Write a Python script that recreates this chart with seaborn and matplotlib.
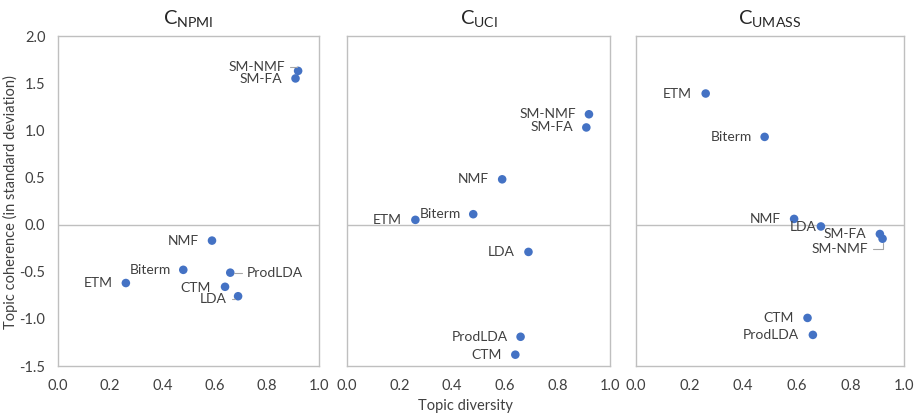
import numpy as np
import pandas as pd
import matplotlib
matplotlib.use("Agg")
import matplotlib.pyplot as plt
import seaborn as sns

models = ["ETM", "Biterm", "NMF", "CTM", "ProdLDA", "LDA", "SM-FA", "SM-NMF"]
diversity = [0.26, 0.48, 0.59, 0.64, 0.66, 0.69, 0.91, 0.92]
npmi = [-0.62, -0.48, -0.17, -0.66, -0.51, -0.76, 1.55, 1.63]
uci = [0.05, 0.11, 0.48, -1.38, -1.19, -0.29, 1.03, 1.17]
umass = [1.39, 0.93, 0.06, -0.99, -1.17, -0.02, -0.10, -0.15]
titles = [r"C$_{\mathregular{NPMI}}$", r"C$_{\mathregular{UCI}}$", r"C$_{\mathregular{UMASS}}$"]
x_ticks = [0.0, 0.2, 0.4, 0.6, 0.8, 1.0]
y_ticks = [-1.5, -1.0, -0.5, 0.0, 0.5, 1.0, 1.5, 2.0]

sns.set_theme(style="white")
plt.rcParams["font.family"] = ["Lato", "DejaVu Sans"]
plt.rcParams["mathtext.fontset"] = "custom"
plt.rcParams["mathtext.rm"] = "Lato"

blue = "#4472C4"
grey = "#BFBFBF"
txt = "#404040"

# label offsets in pixels (dx, dy) relative to point, ha, and leader-line flag
offsets = [
    {  # NPMI
        "ETM": (-13, 0, "right", False), "Biterm": (-12, 0, "right", False),
        "NMF": (-13, 0, "right", False), "CTM": (-14, -1, "right", False),
        "ProdLDA": (16, 0, "left", True), "LDA": (-11, -3, "right", True),
        "SM-FA": (-13, -1, "right", False), "SM-NMF": (-13, 4, "right", True),
    },
    {  # UCI
        "ETM": (-14, 0, "right", False), "Biterm": (-12, 0, "right", False),
        "NMF": (-13, 0, "right", False), "CTM": (-14, 0, "right", False),
        "ProdLDA": (-13, 0, "right", False), "LDA": (-14, 0, "right", False),
        "SM-FA": (-13, 0, "right", False), "SM-NMF": (-13, 0, "right", False),
    },
    {  # UMASS
        "ETM": (-14, 0, "right", False), "Biterm": (-13, 0, "right", False),
        "NMF": (-13, 0, "right", False), "CTM": (-14, 0, "right", False),
        "ProdLDA": (-14, 0, "right", False), "LDA": (-4, -1, "right", False),
        "SM-FA": (-14, 0, "right", False), "SM-NMF": (-14, -10, "right", True),
    },
]

fig = plt.figure(figsize=(9.16, 4.18), dpi=100)
W, H = 916, 418
lefts = [58, 347, 636]
rights = [319, 610, 904]
top, bottom = 36, 366

for i, (vals, title) in enumerate(zip([npmi, uci, umass], titles)):
    ax = fig.add_axes([lefts[i] / W, (H - bottom) / H, (rights[i] - lefts[i]) / W, (bottom - top) / H])
    df = pd.DataFrame({"model": models, "diversity": diversity, "coherence": vals})
    ax.axhline(0, color=grey, lw=1, zorder=0)
    sns.scatterplot(data=df, x="diversity", y="coherence", ax=ax, color=blue,
                    s=38, edgecolor="none", zorder=3, legend=False)
    ax.set_xlim(0, 1)
    ax.set_ylim(-1.5, 2.0)
    ax.set_xticks(x_ticks)
    ax.set_xticklabels([f"{t:.1f}" for t in x_ticks])
    ax.set_yticks(y_ticks)
    if i == 0:
        ax.set_yticklabels([f"{t:.1f}" for t in y_ticks])
    else:
        ax.set_yticklabels([])
    ax.tick_params(length=0, labelsize=10.5, colors=txt, pad=9)
    ax.set_xlabel("")
    ax.set_ylabel("")
    for sp in ax.spines.values():
        sp.set_color(grey)
        sp.set_linewidth(1)
    ax.set_title(title, fontsize=14.5, color="#262626", pad=8)
    for m, x, y in zip(models, diversity, vals):
        dx, dy, ha, lead = offsets[i][m]
        kw = {}
        if lead:
            kw["arrowprops"] = dict(arrowstyle="-", color="#A6A6A6", lw=0.8, shrinkA=1, shrinkB=3,
                                    connectionstyle="angle,angleA=0,angleB=90,rad=0")
        ax.annotate(m, (x, y), xytext=(dx * 0.72, dy * 0.72), textcoords="offset points",
                    ha=ha, va="center", fontsize=10, color=txt, **kw)

fig.text(10 / W, 1 - 202 / H, "Topic coherence (in standard deviation)",
         rotation=90, ha="center", va="center", fontsize=10.5, color=txt)
fig.text(465 / W, 1 - 406 / H, "Topic diversity", ha="center", va="center", fontsize=10.5, color=txt)

fig.savefig("out.png", dpi=100, facecolor="white")
